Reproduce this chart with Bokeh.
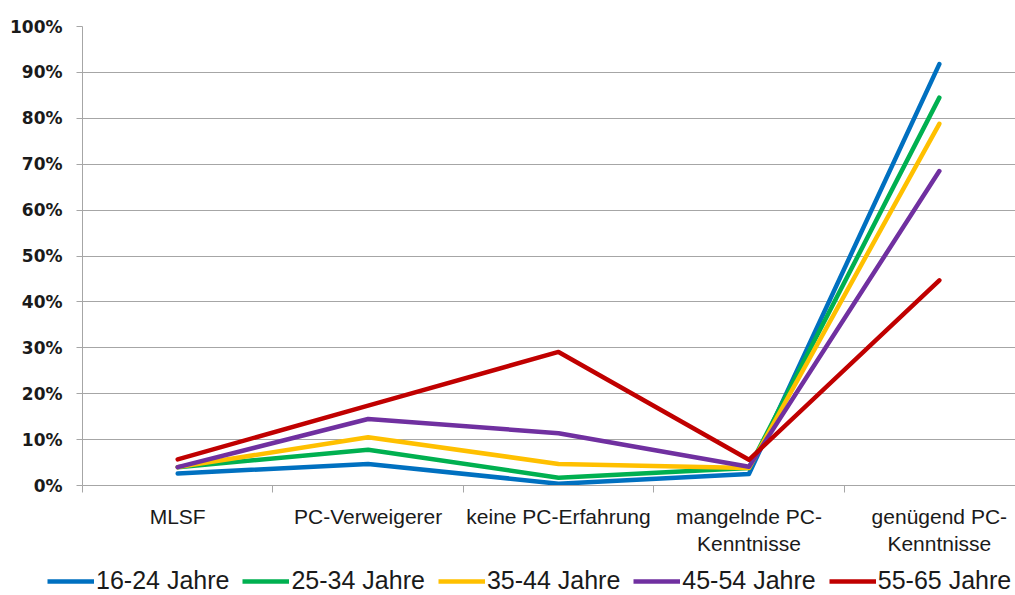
from bokeh.plotting import figure
from bokeh.layouts import column
from bokeh.models import (Range1d, FixedTicker, NumeralTickFormatter, Legend, LegendItem,
                          ColumnDataSource)
from bokeh.embed import file_html
from bokeh.resources import INLINE

# Share of respondents per PC-skill group, by age band
categories = ["MLSF", "PC-Verweigerer", "keine PC-Erfahrung",
              "mangelnde PC-\nKenntnisse", "genügend PC-\nKenntnisse"]
age_16_24 = [0.026, 0.047, 0.004, 0.025, 0.918]
age_25_34 = [0.040, 0.078, 0.017, 0.038, 0.845]
age_35_44 = [0.040, 0.105, 0.047, 0.038, 0.788]
age_45_54 = [0.040, 0.145, 0.114, 0.041, 0.685]
age_55_65 = [0.057, 0.174, 0.291, 0.056, 0.447]

series = [
    ("16-24 Jahre", age_16_24, "#0070C0"),
    ("25-34 Jahre", age_25_34, "#00B050"),
    ("35-44 Jahre", age_35_44, "#FFC000"),
    ("45-54 Jahre", age_45_54, "#7030A0"),
    ("55-65 Jahre", age_55_65, "#C00000"),
]

x_pos = [i + 0.5 for i in range(len(categories))]
grid_grey = "#A6A6A6"

p = figure(width=1015, height=565, output_backend="svg", toolbar_location=None,
           x_range=Range1d(0, 4.9), y_range=Range1d(0, 1.0),
           min_border_left=82, min_border_right=0, min_border_top=26,
           min_border_bottom=80)
p.outline_line_color = None
p.background_fill_color = "white"
p.frame_align = False

# y axis: percentages
p.yaxis.ticker = FixedTicker(ticks=[i / 10 for i in range(11)])
p.yaxis.formatter = NumeralTickFormatter(format="0%")
p.yaxis.axis_line_color = grid_grey
p.yaxis.major_tick_line_color = grid_grey
p.yaxis.major_tick_out = 6
p.yaxis.major_tick_in = 0
p.yaxis.minor_tick_line_color = None
p.yaxis.major_label_text_font = "DejaVu Sans"
p.yaxis.major_label_text_font_style = "bold"
p.yaxis.major_label_text_font_size = "17px"
p.yaxis.major_label_text_color = "#1a1a1a"
p.yaxis.major_label_standoff = 14

# x axis: labels at category centres, ticks at category boundaries
p.xaxis.ticker = FixedTicker(ticks=x_pos, minor_ticks=[0, 1, 2, 3, 4])
p.xaxis.major_label_overrides = {x: c for x, c in zip(x_pos, categories)}
p.xaxis.major_tick_line_color = None
p.xaxis.minor_tick_line_color = grid_grey
p.xaxis.minor_tick_out = 7
p.xaxis.minor_tick_in = 0
p.xaxis.axis_line_color = grid_grey
p.xaxis.major_label_text_font = "Liberation Sans"
p.xaxis.major_label_text_font_size = "21px"
p.xaxis.major_label_text_color = "#1a1a1a"
p.xaxis.major_label_standoff = 12

p.xgrid.grid_line_color = None
p.ygrid.ticker = FixedTicker(ticks=[i / 10 for i in range(11)])
p.ygrid.grid_line_color = grid_grey
p.ygrid.grid_line_width = 1

for name, vals, color in series:
    src = ColumnDataSource(dict(x=x_pos, y=vals))
    p.line("x", "y", source=src, line_color=color, line_width=4.5,
           line_cap="round", line_join="round")

# legend strip under the chart; its lines carry the same data but lie
# outside this strip's visible range, so only the legend keys show
lg = figure(width=1015, height=30, output_backend="svg", toolbar_location=None,
            x_range=Range1d(0, 1), y_range=Range1d(10, 11),
            x_axis_location=None, y_axis_location=None,
            min_border_left=0, min_border_right=0, min_border_top=0,
            min_border_bottom=0)
lg.grid.visible = False
lg.outline_line_color = None
lg.frame_align = False
items = []
for name, vals, color in series:
    r = lg.line(x=x_pos, y=vals, line_color=color, line_width=4.5)
    items.append(LegendItem(label=name, renderers=[r]))

legend = Legend(items=items, orientation="horizontal", location=(47, 0),
                label_text_font="Liberation Sans", label_text_font_size="25px",
                label_text_color="#1a1a1a", glyph_width=47, glyph_height=14,
                label_height=14, label_standoff=2, spacing=13, padding=0, margin=0,
                border_line_color=None, background_fill_alpha=0)
lg.add_layout(legend, "center")

layout = column(p, lg, spacing=0)
open("out.html", "w").write(file_html(layout, INLINE))
